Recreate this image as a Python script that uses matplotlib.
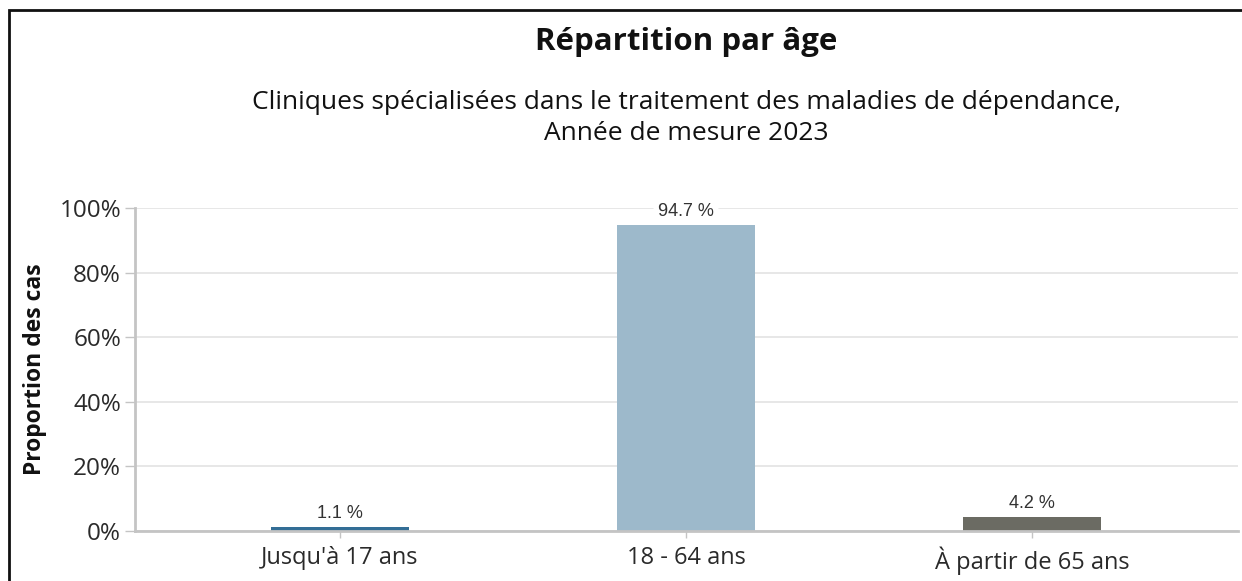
import matplotlib
matplotlib.use("Agg")
import matplotlib.pyplot as plt
from matplotlib.patches import Rectangle

categories = ["Jusqu'à 17 ans", "18 - 64 ans", "À partir de 65 ans"]
values = [1.1, 94.7, 4.2]
value_labels = ["1.1 %", "94.7 %", "4.2 %"]
colors = ["#336e96", "#9db9cb", "#6b6b63"]
yticks = [0, 20, 40, 60, 80, 100]
ytick_labels = ["0%", "20%", "40%", "60%", "80%", "100%"]

title = "Répartition par âge"
subtitle = "Cliniques spécialisées dans le traitement des maladies de dépendance,\nAnnée de mesure 2023"
ylabel = "Proportion des cas"

plt.rcParams['font.family'] = ['Open Sans', 'DejaVu Sans']

W, H = 1242, 581
fig = plt.figure(figsize=(W / 100, H / 100), dpi=100)

# outer border
fig.patches.append(Rectangle((8.5 / W, -0.05), 1.1, 1 - 9.5 / H + 0.05,
                             transform=fig.transFigure, fill=False,
                             edgecolor="#111111", linewidth=2, zorder=0))

left, right = 135 / W, 1238 / W
bottom, top = 1 - 531 / H, 1 - 208 / H
ax = fig.add_axes([left, bottom, right - left, top - bottom])

x = list(range(len(categories)))
ax.bar(x, values, width=0.4, color=colors, zorder=3)

ax.set_xlim(-0.593, 2.596)
ax.set_ylim(0, 100)
ax.set_yticks(yticks)
ax.set_yticklabels(ytick_labels, fontsize=17.5, color="#2a2a2a")
ax.set_xticks(x)
ax.set_xticklabels(categories, fontsize=17, color="#2a2a2a")

ax.grid(axis="y", color="#e3e3e3", linewidth=1.2, zorder=0)
ax.set_axisbelow(True)

for s in ["top", "right"]:
    ax.spines[s].set_visible(False)
for s in ["left", "bottom"]:
    ax.spines[s].set_color("#c4c4c4")
    ax.spines[s].set_linewidth(2)
    ax.spines[s].set_zorder(4)

ax.tick_params(axis="y", length=7, width=1, color="#c4c4c4", pad=3)
ax.tick_params(axis="x", length=5, width=1, color="#c4c4c4", pad=6)

ax.set_ylabel(ylabel, fontsize=16.5, fontweight="bold", color="#111111", labelpad=9)

for xi, v, lab in zip(x, values, value_labels):
    ax.annotate(lab, (xi, v), xytext=(0, 4), textcoords="offset points",
                ha="center", va="bottom", fontsize=13, family="Liberation Sans",
                color="#333333", zorder=5,
                bbox=dict(boxstyle="round,pad=0.25", facecolor="white",
                          edgecolor="none"))

cx = (left + right) / 2
fig.text(cx, 1 - 42 / H, title, ha="center", va="center", fontsize=22.5,
         fontweight="bold", color="#111111")
fig.text(cx, 1 - 118 / H, subtitle, ha="center", va="center", fontsize=19,
         color="#111111", linespacing=1.32)

fig.savefig("out.png", dpi=100)
